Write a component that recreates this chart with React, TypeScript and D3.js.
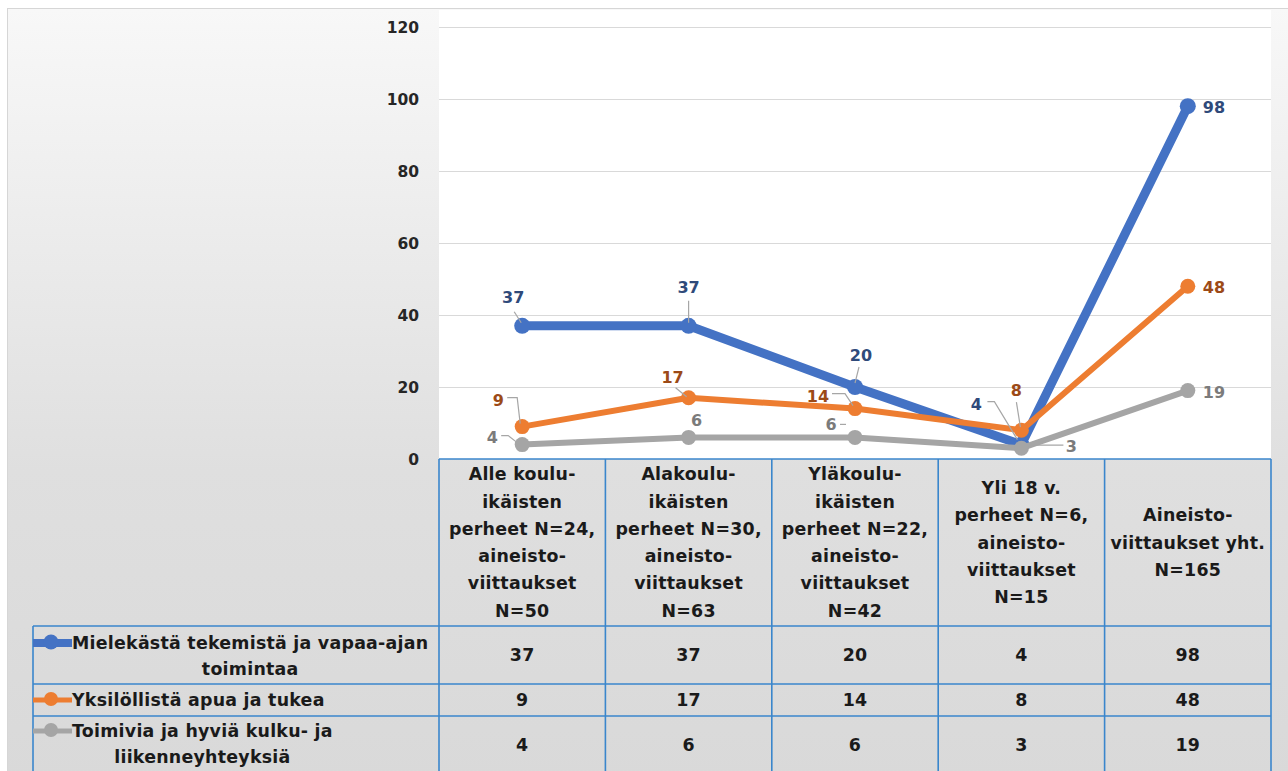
import React, { useEffect, useRef } from 'react';
import * as d3 from 'd3';

// Category header lines (table column headers)
const categories: string[][] = [
  ['Alle koulu-', 'ikäisten', 'perheet N=24,', 'aineisto-', 'viittaukset', 'N=50'],
  ['Alakoulu-', 'ikäisten', 'perheet N=30,', 'aineisto-', 'viittaukset', 'N=63'],
  ['Yläkoulu-', 'ikäisten', 'perheet N=22,', 'aineisto-', 'viittaukset', 'N=42'],
  ['Yli 18 v.', 'perheet N=6,', 'aineisto-', 'viittaukset', 'N=15'],
  ['Aineisto-', 'viittaukset yht.', 'N=165'],
];

const seriesNames: string[][] = [
  ['Mielekästä tekemistä ja vapaa-ajan', 'toimintaa'],
  ['Yksilöllistä apua ja tukea'],
  ['Toimivia ja hyviä kulku- ja', 'liikenneyhteyksiä'],
];

const mielekasta = [37, 37, 20, 4, 98];
const yksilollista = [9, 17, 14, 8, 48];
const toimivia = [4, 6, 6, 3, 19];

const yTicks = [0, 20, 40, 60, 80, 100, 120];

// styling per series
const seriesStyle = [
  { color: '#4472c4', label: '#2f4a7a', width: 9, r: 8 },
  { color: '#ed7d31', label: '#9c4a17', width: 6, r: 7.5 },
  { color: '#a5a5a5', label: '#7b7b7b', width: 6, r: 7.5 },
];

// data label placement: [dx, dy] of label from point, optional leader polyline (relative to point)
type LabelPos = { dx: number; dy: number; leader?: [number, number][] };
const labelPlacement: LabelPos[][] = [
  [
    { dx: -9, dy: -29, leader: [[-8, -14], [-1, -3]] },
    { dx: 0, dy: -39, leader: [[0, -25], [0, -3]] },
    { dx: 6, dy: -32, leader: [[4, -20], [0, -4]] },
    { dx: -45, dy: -41, leader: [[-34, -43], [-27, -43], [-4, -5]] },
    { dx: 24, dy: 1 },
  ],
  [
    { dx: -24, dy: -27, leader: [[-15, -29], [-5, -29], [-2, -3]] },
    { dx: -16, dy: -21, leader: [[-13, -10], [-2, -1]] },
    { dx: -37, dy: -13, leader: [[-23, -15], [-10, -15], [-2, -3]] },
    { dx: -5, dy: -40, leader: [[-5, -28], [-1, -3]] },
    { dx: 24, dy: 1 },
  ],
  [
    { dx: -30, dy: -8, leader: [[-21, -9], [-14, -9], [-5, -2]] },
    { dx: 8, dy: -17 },
    { dx: -24, dy: -13, leader: [[-15, -13], [-9, -13]] },
    { dx: 50, dy: -2, leader: [[42, -3], [9, -3]] },
    { dx: 24, dy: 1 },
  ],
];

const W = 1288;
const H = 771;
const FONT = '"DejaVu Sans", Verdana, sans-serif';
const BORDER = '#3a86cc';
const TABLE_FONT = 17.4;
const TABLE_SPACING = 0.25;

const App: React.FC = () => {
  const svgRef = useRef<SVGSVGElement>(null);

  useEffect(() => {
    document.body.style.margin = '0';
    const svgEl = svgRef.current;
    if (!svgEl) return;
    const svg = d3.select(svgEl);
    svg.selectAll('*').remove();

    const allSeries = [mielekasta, yksilollista, toimivia];
    const idx = d3.range(categories.length);

    const plotLeft = 439;
    const plotRight = 1271;
    const plotTop = 10;
    const axisY = 459;
    const legendLeft = 33;
    const rowEdges = [626, 684, 716, 774];

    const x = d3.scaleBand<number>().domain(idx).range([plotLeft, plotRight]);
    const cx = (i: number) => (x(i) as number) + x.bandwidth() / 2;
    const y = d3.scaleLinear().domain([0, 120]).range([axisY, 27]);

    // background
    const defs = svg.append('defs');
    const grad = defs
      .append('linearGradient')
      .attr('id', 'bg')
      .attr('x1', 0)
      .attr('y1', 0)
      .attr('x2', 0)
      .attr('y2', 1);
    grad.append('stop').attr('offset', '0%').attr('stop-color', '#f8f8f8');
    grad.append('stop').attr('offset', '60%').attr('stop-color', '#dfdfdf');
    grad.append('stop').attr('offset', '100%').attr('stop-color', '#d9d9d9');

    svg
      .append('rect')
      .attr('x', 7.5)
      .attr('y', 8.5)
      .attr('width', W)
      .attr('height', H)
      .attr('fill', 'url(#bg)')
      .attr('stroke', '#d6d6d6');

    svg
      .append('rect')
      .attr('x', plotLeft)
      .attr('y', plotTop)
      .attr('width', plotRight - plotLeft)
      .attr('height', axisY - plotTop)
      .attr('fill', '#ffffff');

    // gridlines
    svg
      .append('g')
      .selectAll('line')
      .data(yTicks.filter((t) => t > 0))
      .join('line')
      .attr('x1', plotLeft)
      .attr('x2', plotRight)
      .attr('y1', (d) => Math.round(y(d)) + 0.5)
      .attr('y2', (d) => Math.round(y(d)) + 0.5)
      .attr('stroke', '#d9d9d9')
      .attr('stroke-width', 1.2);

    // y tick labels
    svg
      .append('g')
      .selectAll('text')
      .data(yTicks)
      .join('text')
      .attr('x', 419)
      .attr('y', (d) => y(d) + 6)
      .attr('text-anchor', 'end')
      .attr('font-family', FONT)
      .attr('font-weight', 'bold')
      .attr('font-size', 15.5)
      .attr('fill', '#262626')
      .text((d) => d);

    // table grid
    const table = svg.append('g').attr('stroke', BORDER).attr('stroke-width', 1.6).attr('fill', 'none');
    table.append('line').attr('x1', plotLeft).attr('x2', plotRight).attr('y1', axisY).attr('y2', axisY);
    rowEdges.slice(0, 3).forEach((ry) => {
      table.append('line').attr('x1', legendLeft).attr('x2', plotRight).attr('y1', ry).attr('y2', ry);
    });
    table.append('line').attr('x1', legendLeft).attr('x2', legendLeft).attr('y1', rowEdges[0]).attr('y2', H);
    [...idx.map((i) => x(i) as number), plotRight].forEach((vx) => {
      table.append('line').attr('x1', vx).attr('x2', vx).attr('y1', axisY).attr('y2', H);
    });

    // header text
    const lineH = 27.3;
    const headerMid = (axisY + rowEdges[0]) / 2;
    categories.forEach((lines, i) => {
      const start = headerMid - ((lines.length - 1) * lineH) / 2;
      svg
        .append('text')
        .attr('text-anchor', 'middle')
        .attr('font-family', FONT)
        .attr('font-weight', 'bold')
        .attr('font-size', TABLE_FONT)
        .attr('letter-spacing', TABLE_SPACING)
        .attr('fill', '#1a1a1a')
        .selectAll('tspan')
        .data(lines)
        .join('tspan')
        .attr('x', cx(i))
        .attr('y', (_, k) => start + k * lineH + 6)
        .text((d) => d);
    });

    // value cells
    const rowCenters = [655, 700, 745];
    allSeries.forEach((vals, s) => {
      svg
        .append('g')
        .selectAll('text')
        .data(vals)
        .join('text')
        .attr('x', (_, i) => cx(i))
        .attr('y', rowCenters[s] + 6)
        .attr('text-anchor', 'middle')
        .attr('font-family', FONT)
        .attr('font-weight', 'bold')
        .attr('font-size', TABLE_FONT)
        .attr('letter-spacing', TABLE_SPACING)
        .attr('fill', '#1a1a1a')
        .text((d) => d);
    });

    // legend column
    const legendFirstLine = [643, 700, 731];
    seriesNames.forEach((lines, s) => {
      const st = seriesStyle[s];
      const ky = legendFirstLine[s];
      svg
        .append('line')
        .attr('x1', legendLeft)
        .attr('x2', 72)
        .attr('y1', ky)
        .attr('y2', ky)
        .attr('stroke', st.color)
        .attr('stroke-width', st.width - 1);
      svg.append('circle').attr('cx', 51).attr('cy', ky - 1).attr('r', st.r - 0.5).attr('fill', st.color);

      const t = svg
        .append('text')
        .attr('font-family', FONT)
        .attr('font-weight', 'bold')
        .attr('font-size', TABLE_FONT)
        .attr('letter-spacing', TABLE_SPACING)
        .attr('fill', '#1a1a1a');
      const first = t.append('tspan').attr('x', 72).attr('y', ky + 6).text(lines[0]);
      const w = (first.node() as SVGTSpanElement).getComputedTextLength();
      lines.slice(1).forEach((ln, k) => {
        t.append('tspan')
          .attr('x', 72 + w / 2)
          .attr('y', ky + 6 + (k + 1) * 26)
          .attr('text-anchor', 'middle')
          .text(ln);
      });
    });

    // lines and markers
    const line = d3
      .line<number>()
      .x((_, i) => cx(i))
      .y((d) => y(d));

    allSeries.forEach((vals, s) => {
      const st = seriesStyle[s];
      svg
        .append('path')
        .attr('d', line(vals))
        .attr('fill', 'none')
        .attr('stroke', st.color)
        .attr('stroke-width', st.width)
        .attr('stroke-linejoin', 'round');
      svg
        .append('g')
        .selectAll('circle')
        .data(vals)
        .join('circle')
        .attr('cx', (_, i) => cx(i))
        .attr('cy', (d) => y(d))
        .attr('r', st.r)
        .attr('fill', st.color);
    });

    // leader lines and data labels
    allSeries.forEach((vals, s) => {
      const st = seriesStyle[s];
      vals.forEach((v, i) => {
        const px = cx(i);
        const py = y(v);
        const p = labelPlacement[s][i];
        if (p.leader) {
          svg
            .append('polyline')
            .attr('points', p.leader.map(([a, b]) => `${px + a},${py + b}`).join(' '))
            .attr('fill', 'none')
            .attr('stroke', '#a6a6a6')
            .attr('stroke-width', 1.2);
        }
        const right = p.dx >= 20 && !p.leader;
        svg
          .append('text')
          .attr('x', px + p.dx)
          .attr('y', py + p.dy + 6)
          .attr('text-anchor', right ? 'start' : 'middle')
          .attr('dx', right ? -9 : 0)
          .attr('font-family', FONT)
          .attr('font-weight', 'bold')
          .attr('font-size', 16)
          .attr('fill', st.label)
          .text(v);
      });
    });
  }, []);

  return <svg ref={svgRef} width={W} height={H} style={{ display: 'block' }} />;
};

export default App;
